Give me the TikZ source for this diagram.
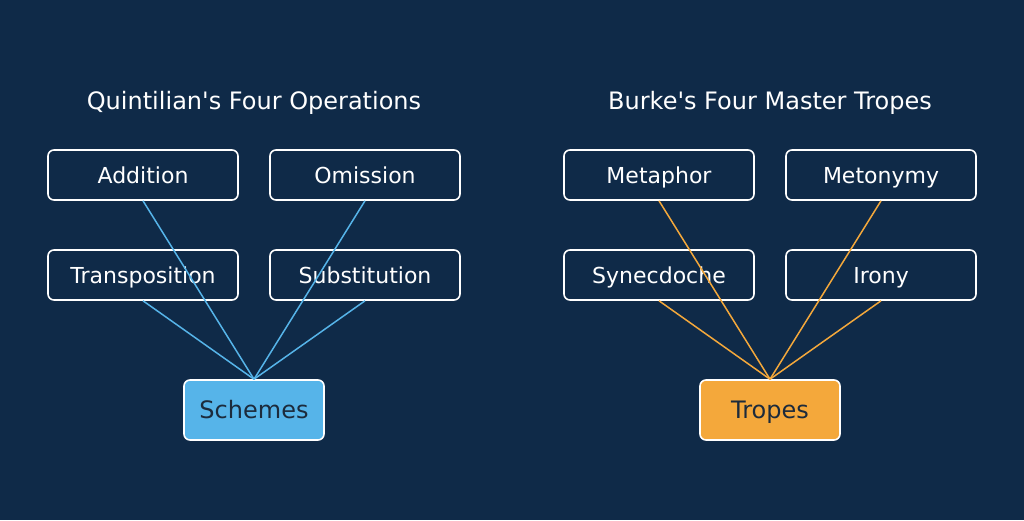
\documentclass[tikz,border=0pt]{standalone}
\usepackage{fontspec}
\setmainfont[Ligatures=TeXOff]{DejaVu Sans}
\definecolor{bg}{HTML}{0F2A48}
\definecolor{sky}{HTML}{56B4E9}
\definecolor{amber}{HTML}{F4A83B}
\definecolor{ink}{HTML}{1C2B3C}
\begin{document}
\begin{tikzpicture}[x=1pt,y=-1pt,
  box/.style={draw=white,line width=1.6pt,rounded corners=6pt,minimum width=190pt,minimum height=50pt,inner sep=0pt,text=white,font=\fontsize{22}{25}\selectfont,text height=16pt,text depth=0pt},
  sink/.style={draw=white,line width=1.6pt,rounded corners=6pt,minimum width=140pt,minimum height=60pt,inner sep=0pt,text=ink,font=\fontsize{24}{28}\selectfont,text height=17.5pt,text depth=0pt},
  ttl/.style={text=white,font=\fontsize{24}{28}\selectfont,inner sep=0pt,text height=17.5pt,text depth=0pt},
  bline/.style={sky,line width=1.5pt},
  oline/.style={amber,line width=1.5pt}]
\fill[bg] (0,0) rectangle (1024,520);
\useasboundingbox (0,0) rectangle (1024,520);
\node[ttl] (t1) at (254,101) {Quintilian's Four Operations};
\node[ttl] (t2) at (770,101) {Burke's Four Master Tropes};
\node[box] (add) at (143,175) {Addition};
\node[box] (omi) at (365,175) {Omission};
\node[box] (tra) at (143,275) {Transposition};
\node[box] (sub) at (365,275) {Substitution};
\node[sink,fill=sky] (sch) at (254,410) {Schemes};
\node[box] (met) at (659,175) {Metaphor};
\node[box] (mty) at (881,175) {Metonymy};
\node[box] (syn) at (659,275) {Synecdoche};
\node[box] (iro) at (881,275) {Irony};
\node[sink,fill=amber] (tro) at (770,410) {Tropes};
\foreach \n in {add,omi,tra,sub} \draw[bline] (\n.south) -- (sch.north);
\foreach \n in {met,mty,syn,iro} \draw[oline] (\n.south) -- (tro.north);
\end{tikzpicture}
\end{document}
